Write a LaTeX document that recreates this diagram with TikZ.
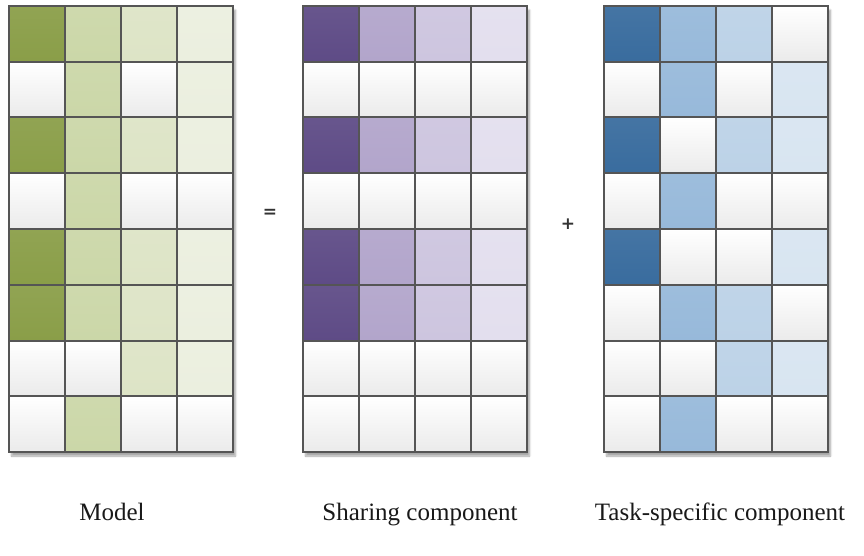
\documentclass[tikz,border=0pt]{standalone}
\usepackage{fontspec}
\setmainfont{Liberation Serif}
\newfontfamily\signfont{DejaVu Sans}
\usetikzlibrary{shadows.blur}

% palette: green (model), purple (sharing), blue (task-specific)
\definecolor{gA}{HTML}{8A9E48}
\definecolor{gB}{HTML}{CBD7A8}
\definecolor{gC}{HTML}{DDE4C6}
\definecolor{gD}{HTML}{EBEFDF}
\definecolor{pA}{HTML}{5E4B86}
\definecolor{pB}{HTML}{B2A5CB}
\definecolor{pC}{HTML}{CDC5DF}
\definecolor{pD}{HTML}{E3DFEE}
\definecolor{bA}{HTML}{396C9E}
\definecolor{bB}{HTML}{97B9DA}
\definecolor{bC}{HTML}{BCD2E7}
\definecolor{bD}{HTML}{D8E5F1}
\definecolor{wW}{HTML}{FFFFFF}
\definecolor{gridline}{HTML}{555555}

\tikzset{
  cellbox/.style={draw=gridline, line width=2pt, minimum width=56pt,
    minimum height=55.75pt, inner sep=0pt, outer sep=0pt},
  gridshadow/.style={fill=white, blur shadow={shadow xshift=3pt,
    shadow yshift=-4pt, shadow blur steps=6, shadow opacity=35}},
  caption/.style={font=\fontsize{25}{28}\selectfont, anchor=base, text=black!90},
  opsign/.style={font=\signfont\bfseries\fontsize{17}{20}\selectfont, text=black!80}
}

% #1 grid prefix, #2 left x, #3 rows of colour names
\newcommand{\cellgrid}[3]{%
  \fill[gridshadow] (#2,6) rectangle ++(224,446);
  \foreach \rowcols [count=\r] in {#3} {
    \foreach \cc [count=\k] in \rowcols {
      \ifx\cc\wWname
        \node[cellbox, top color=white, bottom color=black!8]
          (#1-\r-\k) at ({#2+56*(\k-0.5)}, {6+55.75*(\r-0.5)}) {};
      \else
        \node[cellbox, top color=\cc!94!white, bottom color=\cc]
          (#1-\r-\k) at ({#2+56*(\k-0.5)}, {6+55.75*(\r-0.5)}) {};
      \fi
    }
  }
}
\def\wWname{wW}

\begin{document}
\begin{tikzpicture}[x=1pt, y=-1pt]
  \useasboundingbox (0,0) rectangle (864,556);

  \cellgrid{m}{8.5}{{gA,gB,gC,gD},{wW,gB,wW,gD},{gA,gB,gC,gD},{wW,gB,wW,wW},
                    {gA,gB,gC,gD},{gA,gB,gC,gD},{wW,wW,gC,gD},{wW,gB,wW,wW}}
  \cellgrid{s}{302.5}{{pA,pB,pC,pD},{wW,wW,wW,wW},{pA,pB,pC,pD},{wW,wW,wW,wW},
                    {pA,pB,pC,pD},{pA,pB,pC,pD},{wW,wW,wW,wW},{wW,wW,wW,wW}}
  \cellgrid{t}{603.5}{{bA,bB,bC,wW},{wW,bB,wW,bD},{bA,wW,bC,bD},{wW,bB,wW,wW},
                    {bA,wW,wW,bD},{wW,bB,bC,wW},{wW,wW,bC,bD},{wW,bB,wW,wW}}

  \node[opsign] (eq) at (270,213) {=};
  \node[opsign] (plus) at (568,224) {+};

  \node[caption] (lm) at (112,520) {Model};
  \node[caption] (ls) at (420,520) {Sharing component};
  \node[caption] (lt) at (720,520) {Task-specific component};
\end{tikzpicture}
\end{document}
